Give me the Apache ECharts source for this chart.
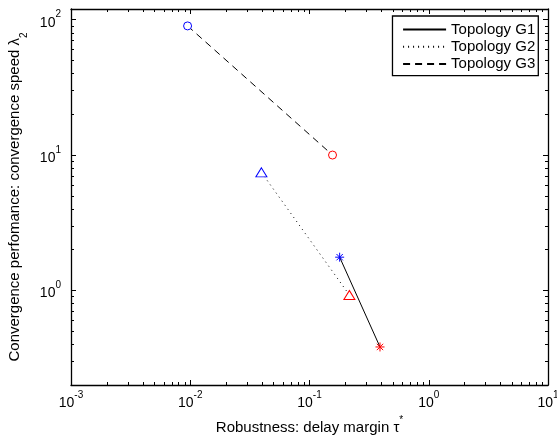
<!DOCTYPE html>
<html>
<head>
<meta charset="utf-8">
<script src="https://cdn.jsdelivr.net/npm/echarts@6/dist/echarts.min.js"></script>
<style>html,body{margin:0;padding:0;background:#fff}#c{width:557px;height:435px}</style>
</head>
<body>
<div id="c"></div>
<script>
// ---- data ----
const seriesNames = ['Topology G1', 'Topology G2', 'Topology G3'];
const g1X = [0.179, 0.39];
const g1Y = [1.76, 0.382];
const g2X = [0.0395, 0.216];
const g2Y = [7.45, 0.925];
const g3X = [0.0095, 0.156];
const g3Y = [90, 10];
const xMajorTicks = [0.001, 0.01, 0.1, 1, 10];
const yMajorTicks = [1, 10, 100];
const xMinorTicks = [0.002,0.003,0.004,0.005,0.006,0.007,0.008,0.009,
  0.02,0.03,0.04,0.05,0.06,0.07,0.08,0.09,
  0.2,0.3,0.4,0.5,0.6,0.7,0.8,0.9,
  2,3,4,5,6,7,8,9];
const yMinorTicks = [0.3,0.4,0.5,0.6,0.7,0.8,0.9,
  2,3,4,5,6,7,8,9,
  20,30,40,50,60,70,80,90];
const xRange = [0.001, 10];
const yRange = [0.2, 120];
const xTitle = 'Robustness: delay margin τ';
const yTitle = 'Convergence perfomance: convergence speed λ';

const FONT = '"Liberation Sans", Arial, Helvetica, sans-serif';
const BLUE = '#0000ff', RED = '#ff0000';
const STAR = 'path://M0,-10L0,10M-10,0L10,0M-7.07,-7.07L7.07,7.07M-7.07,7.07L7.07,-7.07';

const supRich = {
  b: {fontSize: 14, fontFamily: FONT, color: '#000', lineHeight: 20, verticalAlign: 'bottom'},
  s: {fontSize: 10, fontFamily: FONT, color: '#000', lineHeight: 13, verticalAlign: 'top'}
};
function powLabel(v) {
  const e = Math.round(Math.log10(v));
  return '{b|10}{s|' + e + '}';
}

function makeAxes(range, major, minor, mainPos, oppPos, name, nameOpts) {
  const base = {type: 'log', logBase: 10, min: range[0], max: range[1], splitLine: {show: false}};
  const line = {show: true, lineStyle: {color: '#000', width: 1.3}};
  return [
    Object.assign({}, base, {
      position: mainPos, name: name.text, nameLocation: 'middle', nameGap: nameOpts.gap,
      nameTextStyle: {fontSize: 15, fontFamily: FONT, color: '#000', rich: name.rich},
      axisLine: line,
      axisTick: {show: true, inside: true, length: 5, customValues: major, lineStyle: {color: '#000', width: 1}},
      axisLabel: {show: true, customValues: major, formatter: powLabel, rich: supRich, margin: nameOpts.labelMargin,
        showMinLabel: true, showMaxLabel: true}
    }),
    Object.assign({}, base, {
      position: mainPos, axisLine: {show: false},
      axisTick: {show: true, inside: true, length: 3, customValues: minor, lineStyle: {color: '#000', width: 1}},
      axisLabel: {show: false}
    }),
    Object.assign({}, base, {
      position: oppPos, axisLine: line,
      axisTick: {show: true, inside: true, length: 5, customValues: major, lineStyle: {color: '#000', width: 1}},
      axisLabel: {show: false}
    }),
    Object.assign({}, base, {
      position: oppPos, axisLine: {show: false},
      axisTick: {show: true, inside: true, length: 3, customValues: minor, lineStyle: {color: '#000', width: 1}},
      axisLabel: {show: false}
    })
  ];
}

function pts(xs, ys, symbol, size) {
  const colors = [BLUE, RED];
  return xs.map((x, i) => ({
    value: [x, ys[i]],
    symbol: symbol,
    symbolSize: size,
    itemStyle: {color: symbol === STAR ? colors[i] : '#fff', borderColor: colors[i], borderWidth: 1}
  }));
}

const nameRichX = {
  n: {fontSize: 15, fontFamily: FONT, color: '#000', lineHeight: 20, verticalAlign: 'bottom'},
  s: {fontSize: 10, fontFamily: FONT, color: '#000', lineHeight: 12, verticalAlign: 'top'}
};
const nameRichY = {
  n: {fontSize: 15, fontFamily: FONT, color: '#000', lineHeight: 18, verticalAlign: 'top'},
  sub: {fontSize: 10, fontFamily: FONT, color: '#000', lineHeight: 12, verticalAlign: 'bottom', padding: [0,0,-4,0]}
};

const chart = echarts.init(document.getElementById('c'), null, {renderer: 'canvas'});
chart.setOption({
  backgroundColor: '#fff',
  animation: false,
  grid: {left: 71, right: 9, top: 9, bottom: 50, containLabel: false, outerBoundsMode: 'none'},
  xAxis: makeAxes(xRange, xMajorTicks, xMinorTicks, 'bottom', 'top',
    {text: '{n|' + xTitle + '}{s|*}', rich: nameRichX}, {gap: 26, labelMargin: 5}),
  yAxis: makeAxes(yRange, yMajorTicks, yMinorTicks, 'left', 'right',
    {text: '{n|' + yTitle + '}{sub|2}', rich: nameRichY}, {gap: 37, labelMargin: 10}),
  legend: {
    orient: 'vertical', right: 18.7, top: 16, align: 'left',
    itemWidth: 43, itemHeight: 14, itemGap: 2.3, itemTextGap: 4, padding: [6, 3, 4, 9.6],
    borderColor: '#000', borderWidth: 1.3, backgroundColor: '#fff', borderRadius: 0,
    itemStyle: {opacity: 0},
    textStyle: {fontSize: 15, lineHeight: 15, fontFamily: FONT, color: '#000'},
    data: seriesNames
  },
  series: [
    {name: seriesNames[0], type: 'line', symbol: 'none', showAllSymbol: true,
      lineStyle: {color: '#000', width: 1, type: 'solid'}, itemStyle: {color: '#000'},
      data: pts(g1X, g1Y, STAR, 9), z: 3},
    {name: seriesNames[1], type: 'line', symbol: 'none', showAllSymbol: true,
      lineStyle: {color: '#000', width: 1, type: [1, 4]}, itemStyle: {color: '#000'},
      data: pts(g2X, g2Y, 'triangle', [11, 9]), z: 2},
    {name: seriesNames[2], type: 'line', symbol: 'none', showAllSymbol: true,
      lineStyle: {color: '#000', width: 1, type: [7, 5]}, itemStyle: {color: '#000'},
      data: pts(g3X, g3Y, 'circle', 8), z: 2}
  ]
});
</script>
</body>
</html>
